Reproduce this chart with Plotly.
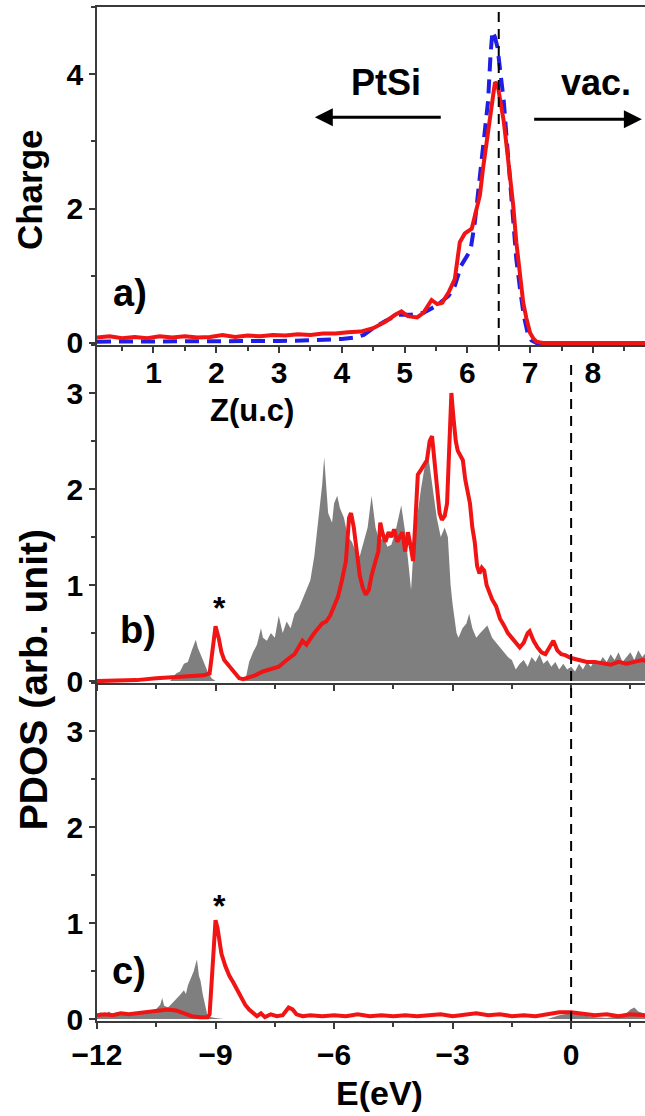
import plotly.graph_objects as go

# ---------------- panel a: planar-averaged charge along Z ----------------
z_red = [0.1, 0.3, 0.5, 0.7, 0.9, 1.1, 1.3, 1.5, 1.7, 1.9,
         2.1, 2.3, 2.5, 2.7, 2.9, 3.1, 3.3, 3.5, 3.7, 3.9,
         4.1, 4.3, 4.5, 4.7, 4.85, 4.95, 5.05, 5.2, 5.3, 5.43,
         5.52, 5.6, 5.7, 5.8, 5.88, 5.96, 6.07, 6.15, 6.2, 6.25,
         6.31, 6.36, 6.4, 6.44, 6.48, 6.52, 6.58, 6.63, 6.68, 6.73,
         6.78, 6.84, 6.89, 6.94, 7.0, 7.05, 7.1, 7.2, 8.0, 8.9]
charge_red = [0.08, 0.10, 0.07, 0.09, 0.07, 0.10, 0.08, 0.10, 0.08, 0.09,
              0.12, 0.09, 0.11, 0.10, 0.12, 0.11, 0.13, 0.12, 0.14, 0.14,
              0.16, 0.17, 0.22, 0.32, 0.42, 0.47, 0.40, 0.38, 0.45, 0.64,
              0.58, 0.60, 0.75, 0.95, 1.50, 1.63, 1.70, 2.00, 2.20, 2.60,
              2.99, 3.40, 3.65, 3.88, 3.85, 3.63, 3.30, 2.89, 2.50, 2.05,
              1.50, 0.96, 0.60, 0.37, 0.15, 0.07, 0.02, 0.0, 0.0, 0.0]

z_blue = [0.1, 0.5, 1.0, 1.5, 2.0, 2.5, 3.0, 3.5, 3.8, 4.0,
          4.2, 4.35, 4.5, 4.7, 4.9, 5.1, 5.3, 5.5, 5.7, 5.8,
          5.9, 6.0, 6.05, 6.12, 6.2, 6.28, 6.33, 6.37, 6.4, 6.44,
          6.48, 6.53, 6.58, 6.63, 6.68, 6.73, 6.78, 6.84, 6.9, 6.96,
          7.02, 7.1, 8.9]
charge_blue = [0.02, 0.02, 0.03, 0.03, 0.02, 0.03, 0.03, 0.04, 0.05, 0.06,
               0.08, 0.12, 0.22, 0.33, 0.42, 0.42, 0.45, 0.55, 0.70, 0.85,
               1.15, 1.30, 1.38, 1.80, 2.45, 3.10, 3.60, 4.30, 4.64, 4.55,
               4.40, 4.00, 3.60, 3.00, 2.40, 1.80, 1.25, 0.80, 0.40, 0.15,
               0.04, 0.0, 0.0]

z_ticks = [1, 2, 3, 4, 5, 6, 7, 8]
z_interface = 6.5

# ---------------- panel b: PDOS ----------------
e_b_gray = [-12.0, -10.15, -10.0, -9.9, -9.8, -9.7, -9.6, -9.5, -9.45, -9.4,
            -9.3, -9.2, -9.1, -9.0, -8.25, -8.15, -8.05, -7.95, -7.85, -7.8,
            -7.7, -7.6, -7.5, -7.4, -7.3, -7.2, -7.1, -7.0, -6.9, -6.8,
            -6.7, -6.6, -6.5, -6.4, -6.3, -6.25, -6.2, -6.15, -6.05, -6.0,
            -5.92, -5.85, -5.75, -5.65, -5.55, -5.45, -5.35, -5.25, -5.15, -5.05,
            -4.95, -4.85, -4.75, -4.65, -4.55, -4.45, -4.35, -4.3, -4.2, -4.12,
            -4.05, -4.0, -3.9, -3.8, -3.7, -3.6, -3.5, -3.4, -3.3, -3.2,
            -3.12, -3.05, -3.0, -2.9, -2.85, -2.75, -2.65, -2.58, -2.5, -2.4,
            -2.3, -2.2, -2.12, -2.0, -1.9, -1.8, -1.7, -1.6, -1.5, -1.4,
            -1.3, -1.2, -1.1, -1.0, -0.9, -0.8, -0.7, -0.6, -0.5, -0.4,
            -0.3, -0.2, -0.1, 0.0, 0.1, 0.2, 0.3, 0.4, 0.5, 0.6,
            0.7, 0.8, 0.9, 1.0, 1.1, 1.2, 1.3, 1.4, 1.5, 1.6,
            1.7, 1.8, 1.9]
pdos_b_gray = [0.0, 0.0, 0.08, 0.10, 0.18, 0.20, 0.32, 0.43, 0.35, 0.30,
               0.20, 0.10, 0.03, 0.0, 0.0, 0.20, 0.30, 0.38, 0.55, 0.45,
               0.42, 0.50, 0.45, 0.68, 0.50, 0.62, 0.55, 0.70, 0.75, 0.85,
               0.95, 1.05, 1.30, 1.70, 2.05, 2.33, 2.00, 1.75, 1.65, 1.85,
               1.93, 1.80, 1.70, 1.50, 1.45, 1.35, 1.30, 1.45, 1.60, 1.93,
               1.60, 1.45, 1.50, 1.40, 1.42, 1.55, 1.75, 1.83, 1.55, 1.20,
               0.95, 1.30, 1.70, 2.00, 2.25, 2.30, 2.00, 1.70, 1.50, 1.60,
               1.50, 1.00, 0.80, 0.50, 0.45, 0.55, 0.60, 0.70, 0.55, 0.45,
               0.50, 0.55, 0.58, 0.45, 0.40, 0.35, 0.30, 0.25, 0.22, 0.12,
               0.18, 0.22, 0.15, 0.25, 0.20, 0.28, 0.18, 0.22, 0.15, 0.20,
               0.12, 0.18, 0.12, 0.15, 0.10, 0.18, 0.12, 0.20, 0.15, 0.22,
               0.18, 0.25, 0.20, 0.28, 0.22, 0.30, 0.20, 0.25, 0.30, 0.22,
               0.32, 0.25, 0.30]

e_b_red = [-12.0, -11.0, -10.5, -10.0, -9.6, -9.3, -9.15, -9.08, -9.0, -8.92,
           -8.85, -8.78, -8.65, -8.5, -8.4, -8.3, -8.2, -8.0, -7.8, -7.6,
           -7.4, -7.2, -7.1, -7.0, -6.9, -6.8, -6.7, -6.6, -6.5, -6.4,
           -6.3, -6.2, -6.1, -6.0, -5.9, -5.8, -5.7, -5.62, -5.57, -5.5,
           -5.42, -5.35, -5.28, -5.2, -5.12, -5.05, -4.95, -4.88, -4.83, -4.78,
           -4.7, -4.62, -4.55, -4.48, -4.4, -4.33, -4.27, -4.2, -4.13, -4.06,
           -4.0, -3.95, -3.88, -3.8, -3.72, -3.65, -3.58, -3.52, -3.46, -3.4,
           -3.33, -3.27, -3.2, -3.14, -3.08, -3.03, -2.98, -2.92, -2.87, -2.8,
           -2.74, -2.68, -2.62, -2.56, -2.5, -2.44, -2.38, -2.32, -2.26, -2.2,
           -2.14, -2.06, -2.0, -1.9, -1.8, -1.7, -1.6, -1.5, -1.4, -1.3,
           -1.2, -1.1, -1.05, -0.95, -0.85, -0.75, -0.65, -0.55, -0.45, -0.35,
           -0.25, -0.15, 0.0, 0.2, 0.4, 0.6, 0.8, 1.0, 1.2, 1.4,
           1.6, 1.8, 1.9]
pdos_b_red = [0.0, 0.01, 0.03, 0.04, 0.05, 0.06, 0.08, 0.30, 0.57, 0.45,
              0.30, 0.22, 0.15, 0.08, 0.03, 0.02, 0.03, 0.06, 0.10, 0.12,
              0.15, 0.22, 0.25, 0.28, 0.35, 0.42, 0.38, 0.45, 0.50, 0.55,
              0.60, 0.62, 0.68, 0.78, 0.88, 1.05, 1.25, 1.70, 1.75, 1.60,
              1.30, 1.10, 0.98, 0.90, 0.95, 1.10, 1.25, 1.35, 1.65, 1.55,
              1.45, 1.55, 1.50, 1.58, 1.45, 1.50, 1.55, 1.35, 1.55, 1.40,
              1.25, 1.60, 2.15, 2.20, 2.25, 2.30, 2.50, 2.55, 2.30, 2.00,
              1.75, 1.68, 1.72, 1.85, 2.40, 3.00, 2.75, 2.50, 2.40, 2.35,
              2.30, 2.10, 1.95, 1.85, 1.60, 1.45, 1.20, 1.12, 1.18, 1.15,
              1.00, 0.92, 0.85, 0.78, 0.65, 0.58, 0.50, 0.45, 0.40, 0.35,
              0.40, 0.50, 0.52, 0.42, 0.35, 0.30, 0.28, 0.35, 0.42, 0.32,
              0.28, 0.27, 0.24, 0.22, 0.20, 0.20, 0.18, 0.17, 0.20, 0.18,
              0.20, 0.22, 0.21]

# ---------------- panel c: PDOS ----------------
e_c_gray = [-12.0, -11.9, -11.8, -11.7, -11.6, -11.5, -11.4, -11.3, -11.2, -11.1,
            -11.0, -10.9, -10.8, -10.7, -10.6, -10.5, -10.4, -10.35, -10.3, -10.2,
            -10.1, -10.0, -9.9, -9.8, -9.75, -9.7, -9.6, -9.55, -9.5, -9.47,
            -9.42, -9.38, -9.32, -9.25, -9.2, -9.1, -9.0, -8.8, -0.6, -0.3,
            0.0, 0.3, 0.6, 0.9, 1.2, 1.4, 1.5, 1.6, 1.7, 1.9]
pdos_c_gray = [0.05, 0.07, 0.04, 0.08, 0.05, 0.07, 0.04, 0.08, 0.05, 0.06,
               0.05, 0.08, 0.05, 0.09, 0.06, 0.10, 0.15, 0.22, 0.14, 0.12,
               0.16, 0.20, 0.25, 0.30, 0.26, 0.35, 0.45, 0.50, 0.58, 0.62,
               0.45, 0.40, 0.25, 0.10, 0.03, 0.02, 0.01, 0.0, 0.0, 0.04,
               0.06, 0.04, 0.02, 0.01, 0.03, 0.06, 0.10, 0.12, 0.08, 0.05]

e_c_red = [-12.0, -11.8, -11.6, -11.4, -11.2, -11.0, -10.8, -10.6, -10.4, -10.2,
           -10.0, -9.8, -9.6, -9.4, -9.2, -9.15, -9.1, -9.05, -9.0, -8.95,
           -8.9, -8.85, -8.75, -8.65, -8.55, -8.45, -8.35, -8.25, -8.15, -8.05,
           -7.95, -7.85, -7.75, -7.6, -7.45, -7.3, -7.15, -7.05, -6.95, -6.8,
           -6.6, -6.3, -6.0, -5.7, -5.4, -5.1, -4.8, -4.5, -4.2, -3.9,
           -3.6, -3.3, -3.0, -2.7, -2.4, -2.1, -1.8, -1.5, -1.2, -0.9,
           -0.6, -0.3, 0.0, 0.3, 0.6, 0.9, 1.2, 1.5, 1.9]
pdos_c_red = [0.04, 0.05, 0.04, 0.06, 0.05, 0.06, 0.07, 0.07, 0.09, 0.10,
              0.09, 0.06, 0.03, 0.02, 0.02, 0.05, 0.40, 0.85, 1.03, 0.95,
              0.80, 0.68, 0.55, 0.45, 0.38, 0.30, 0.22, 0.15, 0.10, 0.06,
              0.03, 0.06, 0.02, 0.05, 0.03, 0.04, 0.12, 0.10, 0.05, 0.03,
              0.04, 0.03, 0.04, 0.03, 0.05, 0.03, 0.04, 0.03, 0.04, 0.03,
              0.04, 0.05, 0.03, 0.05, 0.06, 0.04, 0.05, 0.03, 0.04, 0.03,
              0.05, 0.07, 0.07, 0.06, 0.04, 0.05, 0.03, 0.05, 0.04]

e_ticks = [-12, -9, -6, -3, 0]
e_fermi = 0.0

RED = "#f01414"
BLUE = "#1e1ee6"
GRAY = "#7f7f7f"
AXIS = "#3a3a3a"
FONT = "Liberation Sans, Arial, sans-serif"

fig = go.Figure()

# panel a
fig.add_trace(go.Scatter(x=z_blue, y=charge_blue, mode="lines", xaxis="x", yaxis="y",
                         line=dict(color=BLUE, width=4, dash="14px,8px")))
fig.add_trace(go.Scatter(x=z_red, y=charge_red, mode="lines", xaxis="x", yaxis="y",
                         line=dict(color=RED, width=4)))
# panel b
fig.add_trace(go.Scatter(x=e_b_gray, y=pdos_b_gray, mode="lines", xaxis="x2", yaxis="y2",
                         fill="tozeroy", fillcolor=GRAY, line=dict(width=0, color=GRAY)))
fig.add_trace(go.Scatter(x=e_b_red, y=pdos_b_red, mode="lines", xaxis="x2", yaxis="y2",
                         line=dict(color=RED, width=4)))
# panel c
fig.add_trace(go.Scatter(x=e_c_gray, y=pdos_c_gray, mode="lines", xaxis="x3", yaxis="y3",
                         fill="tozeroy", fillcolor=GRAY, line=dict(width=0, color=GRAY)))
fig.add_trace(go.Scatter(x=e_c_red, y=pdos_c_red, mode="lines", xaxis="x3", yaxis="y3",
                         line=dict(color=RED, width=4)))

tickfont = dict(family=FONT, size=30, color="black", weight="bold")
common = dict(showline=True, linecolor=AXIS, linewidth=1.5, ticks="outside",
              ticklen=6, tickwidth=1.5, tickcolor=AXIS, showgrid=False,
              zeroline=False, tickfont=tickfont)
minor_style = dict(ticklen=4, tickwidth=1.5, tickcolor=AXIS, ticks="outside")

h = 1/3
fig.update_layout(
    width=645, height=1116,
    margin=dict(l=97, r=0, t=7, b=95),
    paper_bgcolor="white", plot_bgcolor="white",
    showlegend=False,
    font=dict(family=FONT, color="black"),
    xaxis=dict(domain=[0, 1], anchor="y", range=[0.1, 8.83], tickvals=z_ticks,
               mirror=True, ticklabelstandoff=-6,
               minor=dict(dtick=0.5, tick0=0.5, **minor_style), **common),
    yaxis=dict(domain=[2*h, 1], anchor="x", range=[-0.03, 5], tickvals=[0, 2, 4],
               minor=dict(dtick=1, tick0=0, **minor_style), **common),
    xaxis2=dict(domain=[0, 1], anchor="y2", range=[-12, 1.87], tickvals=e_ticks,
                showticklabels=False, matches="x3",
                minor=dict(dtick=1.5, tick0=0, **minor_style), **common),
    yaxis2=dict(domain=[h, 2*h], anchor="x2", range=[-0.02, 3.5], tickvals=[0, 1, 2, 3],
                minor=dict(dtick=0.5, tick0=0, **minor_style), **common),
    xaxis3=dict(domain=[0, 1], anchor="y3", range=[-12, 1.87], tickvals=e_ticks,
                minor=dict(dtick=1.5, tick0=0, **minor_style), **common),
    yaxis3=dict(domain=[0, h], anchor="x3", range=[-0.02, 3.5], tickvals=[0, 1, 2, 3],
                minor=dict(dtick=0.5, tick0=0, **minor_style), **common),
)

# interface marker in panel a and Fermi level through panels b and c
fig.add_shape(type="line", xref="x", yref="y domain", x0=z_interface, x1=z_interface,
              y0=0, y1=1, line=dict(color="black", width=2, dash="10px,7px"), layer="above")
fig.add_shape(type="line", xref="x2", yref="paper", x0=e_fermi, x1=e_fermi,
              y0=0, y1=2*h - 0.015, line=dict(color="black", width=2, dash="10px,7px"),
              layer="above")


def label(text, x, y, xref, yref, size, **kw):
    fig.add_annotation(text=text, x=x, y=y, xref=xref, yref=yref, showarrow=False,
                       font=dict(family=FONT, size=size, color="black", weight="bold"),
                       xanchor="center", yanchor="middle", **kw)


# axis titles
label("Charge", -0.124, 0.8195, "paper", "paper", 35, textangle=-90)
label("PDOS (arb. unit)", -0.117, 0.337, "paper", "paper", 39, textangle=-90)
label("Z(u.c)", 0.283, 0.6025, "paper", "paper", 31)
label("E(eV)", 0.516, -0.071, "paper", "paper", 34)

# panel tags and markers
label("a)", 0.62, 0.74, "x", "y", 38)
label("PtSi", 4.70, 3.88, "x", "y", 36)
label("vac.", 8.05, 3.88, "x", "y", 36)
label("b)", -10.96, 0.53, "x2", "y2", 38)
label("*", -8.9, 0.76, "x2", "y2", 32)
label("c)", -11.18, 0.50, "x3", "y3", 38)
label("*", -8.9, 1.18, "x3", "y3", 32)

# direction arrows
for head, tail in [((3.57, 3.36), (5.60, 3.36)), ((8.78, 3.33), (7.04, 3.33))]:
    fig.add_annotation(x=head[0], y=head[1], ax=tail[0], ay=tail[1],
                       xref="x", yref="y", axref="x", ayref="y", text="",
                       showarrow=True, arrowhead=2, arrowsize=1.2, arrowwidth=3,
                       arrowcolor="black")

fig.write_html("out.html")
